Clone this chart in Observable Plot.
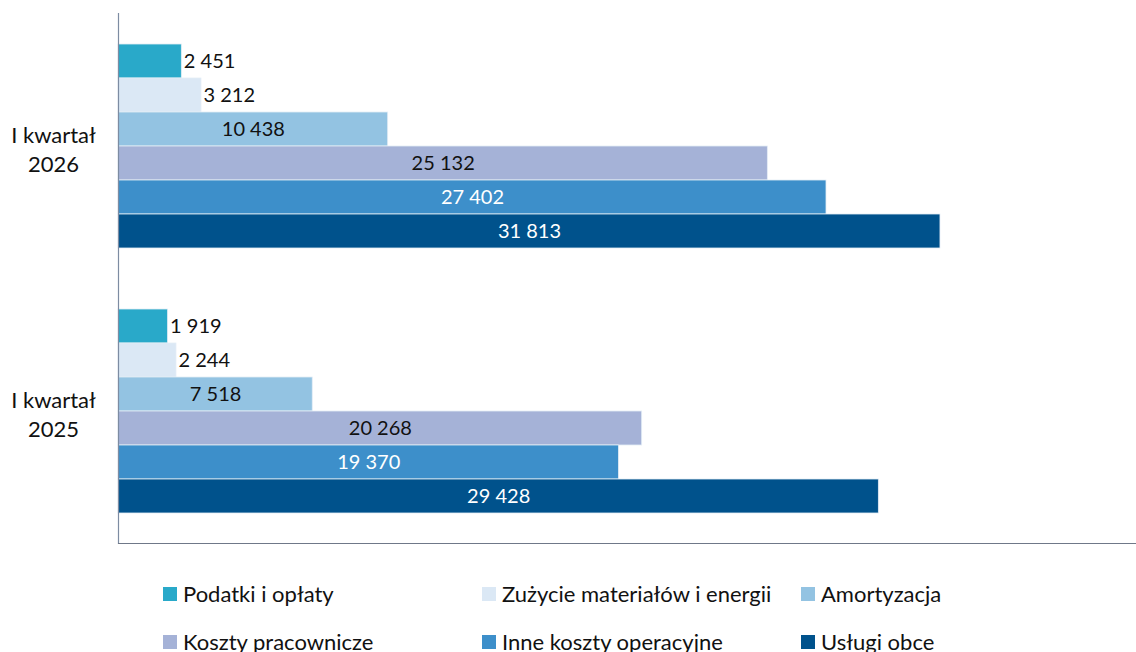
<!DOCTYPE html>
<html>
<head>
<meta charset="utf-8">
<script src="https://cdn.jsdelivr.net/npm/d3@7"></script>
<script src="https://cdn.jsdelivr.net/npm/@observablehq/plot@0.6"></script>
<style>
  html, body { margin: 0; padding: 0; background: #fff; }
  #chart svg { display: block; }
  #legend {
    display: flex; flex-wrap: wrap; width: 1136px; box-sizing: border-box;
    padding-left: 163px; padding-top: 10px;
    font-family: Lato, sans-serif; font-size: 22px; color: #111;
  }
  .item { width: 319px; height: 48px; line-height: 48px; display: flex; align-items: center; white-space: nowrap; }
  .sw { width: 14px; height: 14px; margin-right: 6px; flex: none; }
</style>
</head>
<body>
<div id="chart"></div>
<div id="legend"></div>
<script>
const groups = ["I kwartał 2026", "I kwartał 2025"];
const series = ["Podatki i opłaty", "Zużycie materiałów i energii", "Amortyzacja", "Koszty pracownicze", "Inne koszty operacyjne", "Usługi obce"];
const values2026 = [2451, 3212, 10438, 25132, 27402, 31813];
const values2025 = [1919, 2244, 7518, 20268, 19370, 29428];
const colors = ["#29a9c9", "#dbe8f5", "#93c3e2", "#a5b2d7", "#3d8fca", "#00528c"];
const darkSeries = ["Inne koszty operacyjne", "Usługi obce"];

const data = [];
series.forEach((s, i) => data.push({group: groups[0], series: s, value: values2026[i]}));
series.forEach((s, i) => data.push({group: groups[1], series: s, value: values2025[i]}));

const fmt = d3.formatLocale({decimal: ",", thousands: " ", grouping: [3], currency: ["", ""]}).format(",d");
const isSmall = d => d.value < 5000;
const axisColor = "#7d8ca2";

const chart = Plot.plot({
  width: 1136,
  height: 560,
  marginLeft: 118,
  marginRight: 0,
  marginTop: 12,
  marginBottom: 17,
  facetMarginTop: 0, facetMarginBottom: 0, facetMarginLeft: 0, facetMarginRight: 0,
  facet: {marginTop: 0, marginBottom: 0, marginLeft: 0, marginRight: 0},
  style: {fontFamily: "Lato, sans-serif", fontSize: "20px", background: "#fff"},
  fy: {domain: groups, axis: null, paddingInner: 0, paddingOuter: 0},
  y: {domain: series, axis: null, paddingInner: 0, paddingOuter: 0.793},
  x: {domain: [0, 39400], axis: null},
  color: {domain: series, range: colors},
  marks: [
    Plot.barX(data, {x: "value", y: "series", fy: "group", fill: "series", stroke: "#e4edf6", strokeWidth: 0.8}),
    Plot.text(data.filter(d => !isSmall(d)), {
      x: d => d.value / 2, y: "series", fy: "group", text: d => fmt(d.value),
      textAnchor: "middle", fill: d => darkSeries.includes(d.series) ? "white" : "#111"
    }),
    Plot.text(data.filter(isSmall), {
      x: "value", y: "series", fy: "group", text: d => fmt(d.value),
      textAnchor: "start", dx: 2, fill: "#111"
    }),
    Plot.text(groups, {
      fy: d => d, text: d => d.replace(/\s(\d{4})$/, "\n$1"),
      frameAnchor: "left", dx: -65, dy: 2, textAnchor: "middle", lineHeight: 1.35,
      fontSize: 22, fill: "#111"
    }),
    Plot.ruleX([0], {stroke: axisColor, strokeWidth: 1.2}),
    Plot.frame({anchor: "bottom", fy: [groups[1]], stroke: "#6f7888", strokeWidth: 1.2})
  ]
});
document.getElementById("chart").appendChild(chart);

const legend = document.getElementById("legend");
series.forEach((s, i) => {
  const item = document.createElement("div");
  item.className = "item";
  const sw = document.createElement("span");
  sw.className = "sw";
  sw.style.background = colors[i];
  const t = document.createElement("span");
  t.textContent = s;
  item.appendChild(sw);
  item.appendChild(t);
  legend.appendChild(item);
});
</script>
</body>
</html>
